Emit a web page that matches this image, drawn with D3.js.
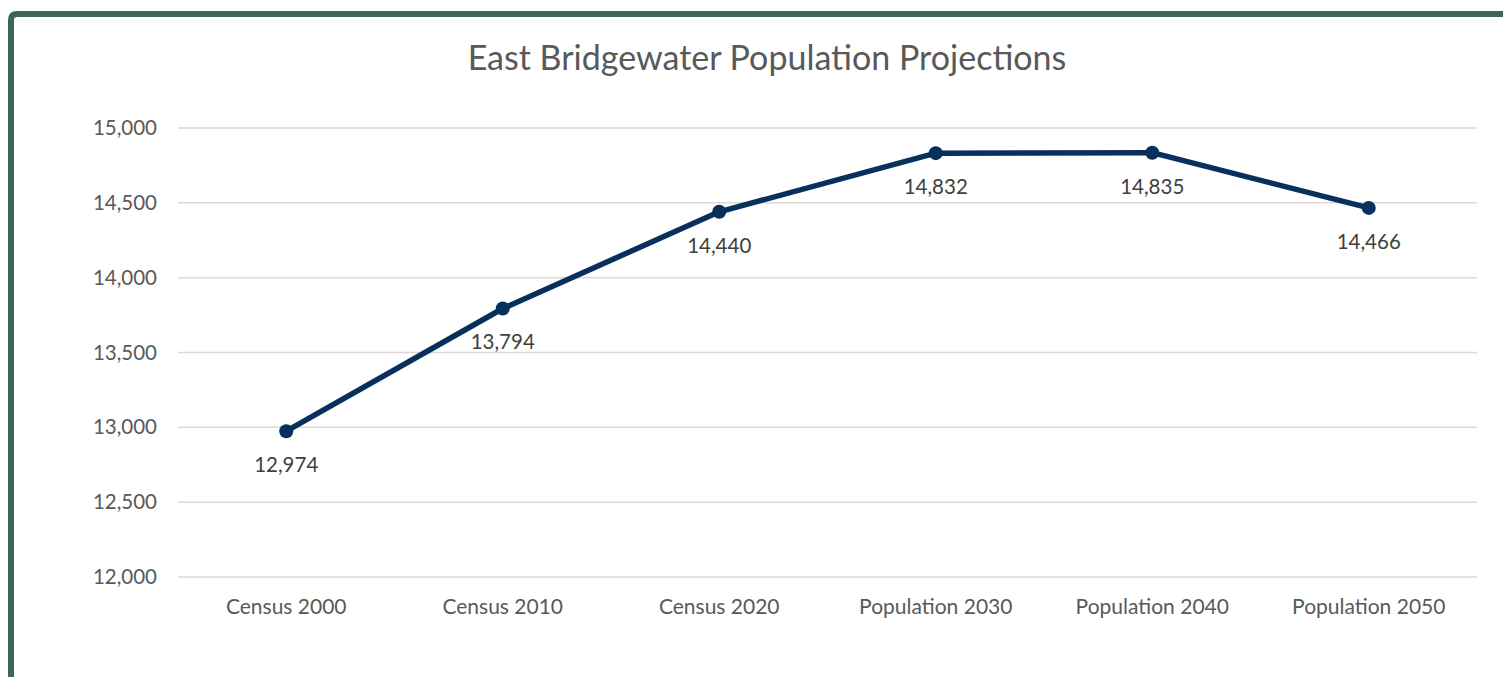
<!DOCTYPE html>
<html><head><meta charset="utf-8">
<script src="https://cdn.jsdelivr.net/npm/d3@7"></script>
<style>body{margin:0;background:#fff;} svg{display:block;}</style>
</head><body>
<svg id="c" width="1503" height="677"></svg>
<script>
const categories = ["Census 2000","Census 2010","Census 2020","Population 2030","Population 2040","Population 2050"];
const values = [12974, 13794, 14440, 14832, 14835, 14466];
const yTicks = [12000, 12500, 13000, 13500, 14000, 14500, 15000];
const title = "East Bridgewater Population Projections";

const svg = d3.select("#c");
const font = "Lato, 'Open Sans', sans-serif";
const textColor = "#595959";

// frame border
svg.append("path")
  .attr("d", "M11,677 L11,20 Q11,14 17,14 L1503,14")
  .attr("fill","none").attr("stroke","#3c6659").attr("stroke-width",6);

const x = d3.scaleBand().domain(categories).range([178,1477]);
const y = d3.scaleLinear().domain([12000,15000]).range([577,128]);

// gridlines
svg.append("g").selectAll("line").data(yTicks).join("line")
  .attr("x1",178).attr("x2",1477)
  .attr("y1",d=>y(d)).attr("y2",d=>y(d))
  .attr("stroke","#d9d9d9").attr("stroke-width",1.5);

// y axis labels
const yAxis = d3.axisLeft(y).tickValues(yTicks).tickFormat(d3.format(",")).tickSize(0).tickPadding(0);
const yg = svg.append("g").attr("transform","translate(157,0)").call(yAxis);
yg.select(".domain").remove();
yg.selectAll("text").attr("font-family",font).attr("font-size",20.5).attr("fill",textColor);

// x axis labels
const xAxis = d3.axisBottom(x).tickSize(0).tickPadding(0);
const xg = svg.append("g").attr("transform","translate(0,599)").call(xAxis);
xg.select(".domain").remove();
xg.selectAll("text").attr("font-family",font).attr("font-size",21).attr("fill",textColor).attr("dy","0.71em");

// title
svg.append("text").attr("x",767).attr("y",70).attr("text-anchor","middle")
  .attr("font-family",font).attr("font-size",34).attr("fill",textColor).text(title);

const data = categories.map((c,i)=>({c, v: values[i]}));
const cx = d=>x(d.c)+x.bandwidth()/2;
const line = d3.line().x(cx).y(d=>y(d.v));
svg.append("path").datum(data).attr("d",line)
  .attr("fill","none").attr("stroke","#07305c").attr("stroke-width",5.5).attr("stroke-linejoin","round");

svg.append("g").selectAll("circle").data(data).join("circle")
  .attr("cx",cx).attr("cy",d=>y(d.v)).attr("r",7).attr("fill","#07305c");

svg.append("g").selectAll("text").data(data).join("text")
  .attr("x",cx).attr("y",d=>y(d.v)+41).attr("text-anchor","middle")
  .attr("font-family",font).attr("font-size",20.5).attr("fill","#404040")
  .text(d=>d3.format(",")(d.v));
</script>
</body></html>
